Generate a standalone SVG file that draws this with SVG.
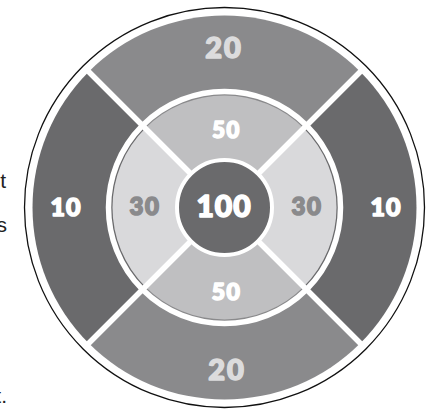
<svg xmlns="http://www.w3.org/2000/svg" width="432" height="409" viewBox="0 0 432 409">
<style>
.num{font-family:Lato,"DejaVu Sans",sans-serif;font-weight:900;text-anchor:middle;stroke-width:1.6;stroke-linejoin:round;paint-order:stroke}
.side{font-family:"Liberation Sans",Arial,sans-serif;font-size:21px;fill:#222;text-anchor:end}
.sep{stroke:#fff;stroke-width:5.5;fill:none}
</style>
<rect width="432" height="409" fill="#fff"/>
<text class="side" x="6" y="188">t</text>
<text class="side" x="7" y="232">s</text>
<text class="side" x="7" y="403">t.</text>
<circle cx="224.5" cy="207.5" r="200" fill="#fff" stroke="#111" stroke-width="1.3"/>
<g id="outer-top"><path d="M224.5 207.5 L88.74 71.74 A192 192 0 0 1 360.26 71.74 Z" fill="#8a8a8c"/></g>
<g id="outer-right"><path d="M224.5 207.5 L360.26 71.74 A192 192 0 0 1 360.26 343.26 Z" fill="#6a6a6c"/></g>
<g id="outer-bottom"><path d="M224.5 207.5 L360.26 343.26 A192 192 0 0 1 88.74 343.26 Z" fill="#8a8a8c"/></g>
<g id="outer-left"><path d="M224.5 207.5 L88.74 343.26 A192 192 0 0 1 88.74 71.74 Z" fill="#6a6a6c"/></g>
<g id="mid-top"><path d="M224.5 207.5 L145.3 128.3 A112 112 0 0 1 303.7 128.3 Z" fill="#bfbfc1"/></g>
<g id="mid-right"><path d="M224.5 207.5 L303.7 128.3 A112 112 0 0 1 303.7 286.7 Z" fill="#d9d9db"/></g>
<g id="mid-bottom"><path d="M224.5 207.5 L303.7 286.7 A112 112 0 0 1 145.3 286.7 Z" fill="#bfbfc1"/></g>
<g id="mid-left"><path d="M224.5 207.5 L145.3 286.7 A112 112 0 0 1 145.3 128.3 Z" fill="#d9d9db"/></g>
<g id="connectors">
<circle class="sep" cx="224.5" cy="207.5" r="116" stroke-width="8"/>
<line class="sep" x1="86" y1="69" x2="363" y2="346"/>
<line class="sep" x1="363" y1="69" x2="86" y2="346"/>
</g>
<g id="center"><circle cx="224.5" cy="207.5" r="47.5" fill="#6a6a6c" stroke="#fff" stroke-width="4"/><text class="num" x="224" y="217" font-size="30" letter-spacing="1" fill="#fff" stroke="#fff">100</text></g>
<g id="labels">
<text class="num" x="224" y="58" font-size="29" letter-spacing="2" fill="#dcdcdd" stroke="#dcdcdd">20</text>
<text class="num" x="227" y="380" font-size="29" letter-spacing="2" fill="#dcdcdd" stroke="#dcdcdd">20</text>
<text class="num" x="66" y="215.5" font-size="25" letter-spacing="1" fill="#fff" stroke="#fff">10</text>
<text class="num" x="386" y="216" font-size="25" letter-spacing="1" fill="#fff" stroke="#fff">10</text>
<text class="num" x="145" y="215" font-size="24" letter-spacing="1.5" fill="#8a8a8c" stroke="#8a8a8c">30</text>
<text class="num" x="307" y="215" font-size="24" letter-spacing="1.5" fill="#8a8a8c" stroke="#8a8a8c">30</text>
<text class="num" x="226.5" y="138" font-size="22" letter-spacing="1.5" fill="#fff" stroke="#fff">50</text>
<text class="num" x="226.5" y="300" font-size="23" letter-spacing="1.5" fill="#fff" stroke="#fff">50</text>
</g>
</svg>
